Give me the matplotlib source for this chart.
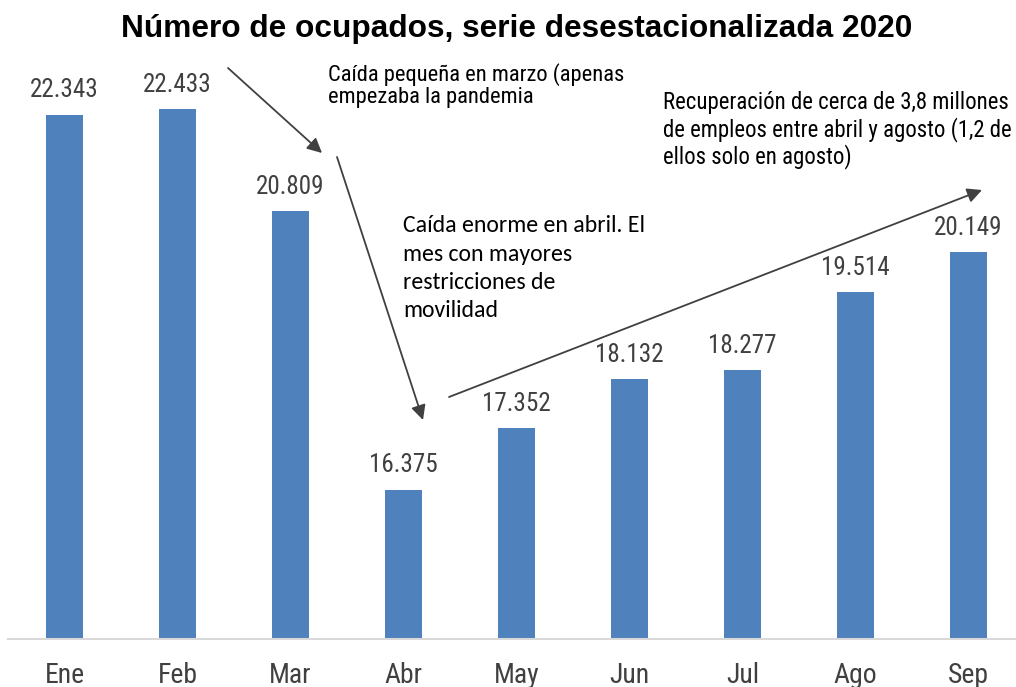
import matplotlib
matplotlib.use("Agg")
import matplotlib.pyplot as plt
from matplotlib import font_manager
from matplotlib.patches import FancyArrowPatch

# ---------------- Datos ----------------
meses = ["Ene", "Feb", "Mar", "Abr", "May", "Jun", "Jul", "Ago", "Sep"]
ocupados = [22343, 22433, 20809, 16375, 17352, 18132, 18277, 19514, 20149]  # miles

titulo = "Número de ocupados, serie desestacionalizada 2020"
nota_marzo = ["Caída pequeña en marzo (apenas", "empezaba la pandemia"]
nota_abril = ["Caída enorme en abril. El", "mes con mayores",
              "restricciones de", "movilidad"]
nota_recup = ["Recuperación de cerca de 3,8 millones",
              "de empleos entre abril y agosto (1,2 de",
              "ellos solo en agosto)"]

W, H = 1016, 687
AZUL = "#4F81BD"
GRIS = "#404040"

instaladas = {f.name for f in font_manager.fontManager.ttflist}


def elegir(*familias):
    return next((f for f in familias if f in instaladas), "DejaVu Sans")


NARROW = elegir("Liberation Sans Narrow", "Arial Narrow", "Roboto Condensed",
                "Archivo Narrow", "Asap Condensed")
ARIAL = elegir("Liberation Sans", "Arimo", "Arial")
CALIBRI = elegir("Carlito", "Calibri", "Lato")


def px(x, y):
    # pixeles de la imagen -> fraccion de la figura
    return (x / W, 1 - y / H)


fig = plt.figure(figsize=(W / 100, H / 100), dpi=100)
renderer = fig.canvas.get_renderer()


def ajustar(textos, ancho):
    # escala la fuente para que el primer texto mida `ancho` pixeles
    w = textos[0].get_window_extent(renderer).width
    k = ancho / w
    for t in textos:
        t.set_fontsize(t.get_fontsize() * k)
    return textos[0].get_fontsize()


ax = fig.add_axes([8 / W, 48 / H, 1008 / W, 591 / H])

x = list(range(len(meses)))
ax.bar(x, ocupados, width=0.32, color=AZUL, zorder=2)

ax.set_xlim(-0.5, 8.42)
ax.set_ylim(14000, 14000 + 591 / 62.86 * 1000)
ax.set_yticks([])
for s in ["top", "right", "left"]:
    ax.spines[s].set_visible(False)
ax.spines["bottom"].set_color("#D9D9D9")
ax.spines["bottom"].set_linewidth(1.5)

etiquetas = []
for i, v in zip(x, ocupados):
    etiquetas.append(ax.annotate(f"{v:,}".replace(",", "."), xy=(i, v), xytext=(0, 12.5),
                                 textcoords="offset points", ha="center", va="baseline",
                                 fontsize=20, color=GRIS, family=NARROW))
ajustar(etiquetas, 69)

ax.set_xticks(x)
ax.set_xticklabels(meses, color=GRIS, family=NARROW, fontsize=20)
ax.tick_params(axis="x", length=0, pad=44 * 0.72)
for lab in ax.get_xticklabels():
    lab.set_va("baseline")
ajustar(ax.get_xticklabels(), 40)

# ---------------- Titulo ----------------
t = fig.text(*px(516.5, 37), titulo, ha="center", va="baseline",
             fontsize=23, fontweight="bold", color="black", family=ARIAL)
ajustar([t], 793)

# ---------------- Anotaciones ----------------
def nota(lineas, x0, bases, ancho, familia):
    textos = [fig.text(*px(x0, b), l, ha="left", va="baseline", fontsize=16,
                       color="black", family=familia)
              for l, b in zip(lineas, bases)]
    ajustar(textos, ancho)


nota(nota_marzo, 328, [81, 103], 297, NARROW)
nota(nota_abril, 403, [232, 261, 289, 317], 242, CALIBRI)
nota(nota_recup, 663, [109, 136, 163], 346, NARROW)

flechas = [((228, 68), (322, 153)),
           ((337, 157), (423, 420)),
           ((449, 397), (982, 190))]
for ini, fin in flechas:
    fig.add_artist(FancyArrowPatch(
        px(*ini), px(*fin), transform=fig.transFigure,
        arrowstyle="-|>", mutation_scale=22, color=GRIS, lw=1.3,
        shrinkA=0, shrinkB=0))

fig.savefig("out.png", dpi=100)
